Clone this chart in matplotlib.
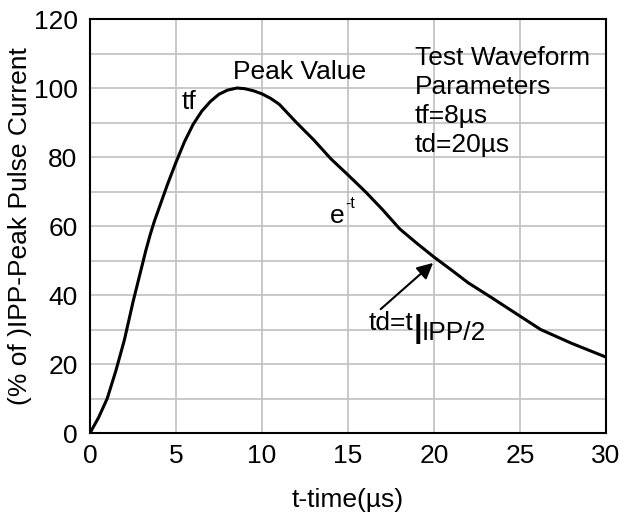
import matplotlib
matplotlib.use('Agg')
import matplotlib.pyplot as plt
import numpy as np

plt.rcParams['font.family'] = ['Liberation Sans', 'DejaVu Sans']

# Pulse waveform
time_us = [0, 0.5, 1, 1.5, 2, 2.5, 3, 3.25, 3.5, 3.75, 4, 4.5, 5, 5.5, 6,
           6.5, 7, 7.5, 8, 8.55, 9, 9.5, 10, 10.5, 11, 12, 13, 14, 15, 16,
           17, 18, 19, 20, 21, 22, 23.3, 24.5, 26.2, 28, 30]
current_pct = [0, 4.5, 10, 18, 27, 38, 48, 53, 57.5, 61.5, 65, 72, 78.5, 84.5,
               89.5, 93.3, 96.1, 98.2, 99.4, 100, 99.8, 99.2, 98.3, 97, 95.3,
               90, 85, 79.5, 74.8, 70, 64.8, 59.2, 55, 51, 47.3, 43.5, 39.4,
               35.5, 30, 26, 22]

x_ticks = [0, 5, 10, 15, 20, 25, 30]
y_ticks = [0, 20, 40, 60, 80, 100, 120]

fig = plt.figure(figsize=(6.26, 5.21), dpi=100)
ax = fig.add_axes([0.1438, 0.1689, 0.8242, 0.7946])

ax.plot(time_us, current_pct, color='black', linewidth=2.2, zorder=3,
        solid_joinstyle='round')

ax.set_xlim(0, 30)
ax.set_ylim(0, 120)
ax.set_xticks(x_ticks)
ax.set_yticks(y_ticks)
ax.set_yticks(np.arange(10, 120, 20), minor=True)
ax.grid(True, which='both', color='#c0c0c0', linewidth=1.2, zorder=0)
ax.set_axisbelow(True)

fs = 19
ax.tick_params(which='both', length=0, labelsize=fs)
ax.tick_params(axis='y', pad=9)
ax.tick_params(axis='x', pad=8)
for s in ax.spines.values():
    s.set_linewidth(1.5)

ax.set_xlabel('t-time(µs)', fontsize=fs, labelpad=14)
ax.set_ylabel('(% of )IPP-Peak Pulse Current', fontsize=fs, labelpad=1)

# annotations
ax.text(8.3, 104.7, 'Peak Value', fontsize=fs, va='center', ha='left')
ax.text(5.35, 96, 'tf', fontsize=fs, va='center', ha='left')
ax.text(13.95, 62.9, 'e', fontsize=fs, va='center', ha='left')
ax.text(14.85, 66.5, '-t', fontsize=fs * 0.6, va='center', ha='left')
ax.text(16.2, 31.8, 'td=t', fontsize=fs, va='center', ha='left')
ax.text(18.8, 30.2, '|', fontsize=fs + 3, fontweight='bold', va='center', ha='left')
ax.text(19.3, 29.0, 'IPP/2', fontsize=fs, va='center', ha='left')
ax.annotate('', xy=(19.95, 49.3), xytext=(16.9, 35.9),
            arrowprops=dict(arrowstyle='-|>', color='black', lw=1.5,
                            mutation_scale=24, shrinkA=0, shrinkB=0))
ax.text(18.9, 112.2, 'Test Waveform\nParameters\ntf=8µs\ntd=20µs',
        fontsize=fs, va='top', ha='left', linespacing=1.26)

fig.savefig('out.png', dpi=100)
